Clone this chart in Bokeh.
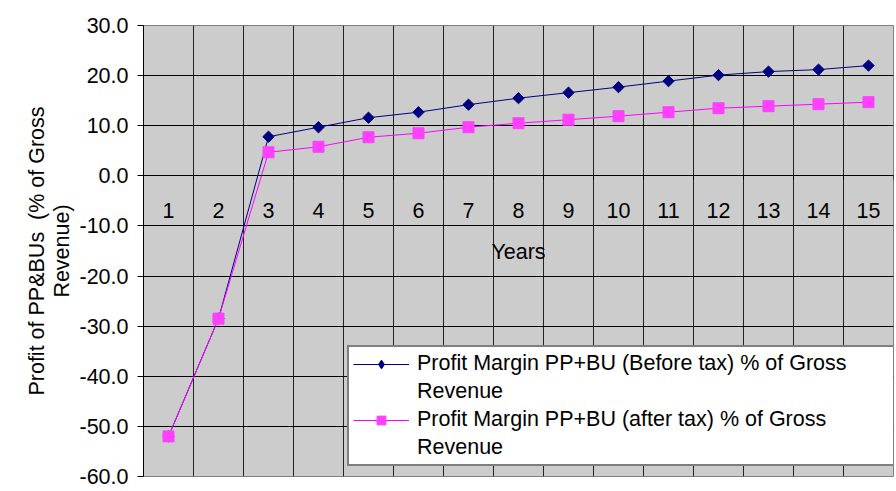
from bokeh.plotting import figure
from bokeh.models import Range1d, FixedTicker, NumeralTickFormatter, Legend, LegendItem
from bokeh.embed import file_html
from bokeh.resources import INLINE
import math

years = [1, 2, 3, 4, 5, 6, 7, 8, 9, 10, 11, 12, 13, 14, 15]
before_tax = [-52.0, -28.5, 7.8, 9.7, 11.6, 12.7, 14.2, 15.5, 16.6, 17.7, 18.9, 20.1, 20.8, 21.2, 22.0]
after_tax = [-52.0, -28.5, 4.7, 5.8, 7.7, 8.5, 9.7, 10.5, 11.2, 11.9, 12.7, 13.5, 13.9, 14.3, 14.7]
y_ticks = [-60, -50, -40, -30, -20, -10, 0, 10, 20, 30]
label_before = "Profit Margin PP+BU (Before tax) % of Gross"
label_after = "Profit Margin PP+BU (after tax) % of Gross"
label_cont = "Revenue"
y_title = "Profit of PP&BUs \u00a0(% of Gross\nRevenue)"
x_title = "Years"

boundaries = [y - 0.5 for y in years] + [years[-1] + 0.5]

FONT = "Liberation Sans"
FS = "21.5px"

p = figure(width=894, height=491, output_backend="svg", toolbar_location=None,
           x_range=Range1d(0.5, 15.5), y_range=Range1d(-60, 30),
           min_border_left=143, min_border_right=1, min_border_top=25, min_border_bottom=15)
# off-screen range so that legend-only swatches are not visible in the plot area
p.extra_y_ranges = {"legend_only": Range1d(1000, 1100)}

p.background_fill_color = "#CCCCCC"
p.border_fill_color = "white"
p.outline_line_color = "#808080"
p.outline_line_width = 1

# grids
p.ygrid.ticker = FixedTicker(ticks=y_ticks)
p.ygrid.grid_line_color = "black"
p.ygrid.grid_line_width = 1
p.xgrid.ticker = FixedTicker(ticks=boundaries)
p.xgrid.grid_line_color = "#222222"
p.xgrid.grid_line_width = 1

# y axis
ya = p.yaxis[0]
ya.ticker = FixedTicker(ticks=y_ticks)
ya.formatter = NumeralTickFormatter(format="0.0")
ya.major_tick_out = 6
ya.major_tick_in = 0
ya.minor_tick_line_color = None
ya.axis_line_color = "black"
ya.major_tick_line_color = "black"
ya.major_label_text_font = FONT
ya.major_label_text_font_size = FS
ya.major_label_text_color = "black"
ya.major_label_standoff = 9
ya.axis_label = y_title
ya.axis_label_text_font = FONT
ya.axis_label_text_font_size = FS
ya.axis_label_text_font_style = "normal"
ya.axis_label_text_color = "black"
ya.axis_label_text_line_height = 1.05
ya.axis_label_standoff = 2

# x axis crossing at zero
xa = p.xaxis[0]
xa.fixed_location = 0
xa.ticker = FixedTicker(ticks=years, minor_ticks=boundaries)
xa.major_tick_line_color = None
xa.minor_tick_out = 4
xa.minor_tick_in = 0
xa.minor_tick_line_color = "black"
xa.axis_line_color = "black"
xa.major_label_text_font = FONT
xa.major_label_text_font_size = FS
xa.major_label_text_color = "black"
xa.major_label_standoff = 21
xa.axis_label = x_title
xa.axis_label_text_font = FONT
xa.axis_label_text_font_size = FS
xa.axis_label_text_font_style = "normal"
xa.axis_label_text_color = "black"
xa.axis_label_standoff = 19

# series
l1 = p.line(years, before_tax, line_color="#000080", line_width=1)
m1 = p.scatter(years, before_tax, marker="square", angle=math.pi / 4, size=8,
               fill_color="#000080", line_color="#000080")
l2 = p.line(years, after_tax, line_color="#FF00FF", line_width=1)
m2 = p.scatter(years, after_tax, marker="square", size=11,
               fill_color="#FF40FF", line_color="#FF40FF")
# legend swatches drawn on the off-screen range
diamond_key = p.scatter(years, before_tax, marker="diamond", size=14,
                        fill_color="#000080", line_color="#000080",
                        y_range_name="legend_only")
blank = p.line(years, before_tax, line_alpha=0, y_range_name="legend_only")

legend = Legend(items=[LegendItem(label=label_before, renderers=[l1, diamond_key]),
                       LegendItem(label=label_cont, renderers=[blank]),
                       LegendItem(label=label_after, renderers=[l2, m2]),
                       LegendItem(label=label_cont, renderers=[blank])],
                location=(204, 10))
legend.label_text_font = FONT
legend.label_text_font_size = FS
legend.label_text_color = "black"
legend.label_text_line_height = 1.0
legend.label_height = 22
legend.glyph_width = 56
legend.glyph_height = 22
legend.label_standoff = 8
legend.label_width = 474
legend.spacing = 3
legend.padding = 4
legend.margin = 0
legend.border_line_color = "black"
legend.border_line_width = 2
legend.background_fill_color = "white"
legend.background_fill_alpha = 1
p.add_layout(legend)

open("out.html", "w").write(file_html(p, INLINE))
